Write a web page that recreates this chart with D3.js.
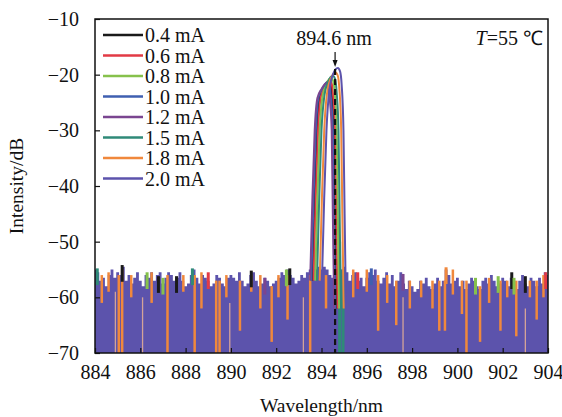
<!DOCTYPE html>
<html>
<head>
<meta charset="utf-8">
<script src="https://cdn.jsdelivr.net/npm/d3@7"></script>
<style>
  body { margin: 0; background: #fff; }
  text { font-family: "Liberation Serif", "Times New Roman", serif; fill: #111; }
</style>
</head>
<body>
<script>
// legend labels and colours of the eight drive currents
const currents = ["0.4 mA", "0.6 mA", "0.8 mA", "1.0 mA", "1.2 mA", "1.5 mA", "1.8 mA", "2.0 mA"];
const colors = ["#1a1a1a", "#e23a45", "#86c14c", "#3f5fb0", "#7a4590", "#2f8a78", "#f0883c", "#5c53ac"];

const xTicks = [884, 886, 888, 890, 892, 894, 896, 898, 900, 902, 904];
const yTicks = [-10, -20, -30, -40, -50, -60, -70];

// noise floor top (dense 2.0 mA trace), every 0.125 nm from 884 to 904
const floorStart = 884, floorStep = 0.125;
const floorTop = [
  -55, -55.5, -57, -56.5, -58, -56, -55, -56.5,
  -55.5, -56, -54.5, -57, -56, -57.5, -56.5, -55.5,
  -57, -58, -56, -56.5, -55.5, -57, -56, -55.5,
  -57.5, -56.5, -55.5, -56, -57, -56.5, -55.5, -57,
  -58, -57.5, -56, -55, -56.5, -57.5, -56, -56.5,
  -57, -58, -57.5, -56, -56.5, -57.5, -58, -56.5,
  -56, -56.5, -57, -55.5, -57, -58, -57.5, -56,
  -55.5, -57, -58, -57.5, -56.5, -57, -58, -57.5,
  -57, -56.5, -55.5, -56, -55, -56, -56.5, -57.5,
  -57, -56, -56.5, -55.5, -55, -54.5, -55, -54.5,
  -55, -54.5, -55, -56, -56.5, -55.5, -56, -55,
  -54.5, -55.5, -57, -56, -55.5, -57, -56.5, -58,
  -56.5, -55.5, -56, -55, -57, -57.5, -56.5, -55.5,
  -57.5, -56, -58, -57, -55.5, -57.5, -58.5, -57,
  -58, -59, -58.5, -57, -57.5, -56.5, -58, -58.5,
  -57.5, -56.5, -58, -57, -55, -56, -57.5, -57,
  -56.5, -58, -57, -58.5, -57.5, -56.5, -57, -58,
  -58.5, -57, -56.5, -57.5, -56, -57, -58, -57.5,
  -56.5, -57, -58, -56.5, -57.5, -58.5, -57, -56,
  -57.5, -58, -56.5, -57, -58, -56.5, -57.5, -55.5,
  -56
];

// places where the 1.8 mA trace shows through the floor: [wavelength, top, bottom]
const orangeStrips = [
  [884.3, -56, -61], [884.6, -55.5, -59], [885.05, -56, -70], [885.2, -55, -70], [885.6, -56, -60],
  [886.5, -55.5, -61], [887.2, -56, -70], [887.9, -56, -59], [888.4, -56, -70], [888.7, -55.5, -62],
  [889.35, -57, -70], [889.5, -57, -70], [889.8, -56, -60], [890.4, -57, -66], [890.9, -56, -59],
  [891.3, -56, -62], [891.8, -58, -68], [892.1, -56, -60], [892.5, -56, -64], [893.5, -56, -70],
  [894.2, -56, -62], [895.4, -55, -60], [896.0, -55, -59], [896.5, -56, -66], [896.9, -56, -61],
  [897.3, -57, -65], [897.9, -57, -62], [898.4, -57, -60], [898.9, -57, -62], [899.2, -57, -66],
  [899.45, -57, -66], [899.8, -55, -59.5], [900.2, -57, -63], [900.4, -57, -70], [901.0, -58, -68],
  [901.4, -56.5, -61], [901.9, -57, -66], [902.2, -57, -60], [902.6, -57, -67], [903.2, -57, -60],
  [903.5, -57, -64], [903.8, -56, -60]
];

// pale gaps in the floor: [wavelength, top, bottom]
const paleStrips = [[884.9, -59, -70], [886.1, -60, -70], [889.95, -61, -70], [893.2, -60, -70], [897.6, -60, -70], [903.0, -62, -70]];

// teal strips at the foot of the peak: [wavelength, top, bottom]
const tealStrips = [[894.8, -50, -70], [894.95, -55, -70]];

// small tips of other traces above the floor: [wavelength, value, series index]
const tips = [
  [884.1, -54.8, 5], [885.2, -54.2, 0], [886.3, -55.5, 2], [886.8, -56.2, 0], [887.0, -56.5, 2],
  [887.6, -56.2, 0], [888.3, -54.8, 5], [889.0, -55.5, 1], [890.9, -55.2, 0], [891.5, -56.5, 4],
  [892.45, -55, 2], [892.6, -54.8, 0], [895.6, -55.5, 1], [896.2, -54.8, 3], [897.6, -55.8, 4],
  [899.5, -54.6, 6], [900.8, -56.5, 2], [901.8, -56.2, 2], [902.4, -55.5, 0], [902.5, -56.5, 2],
  [903.0, -56.2, 0], [903.9, -55.5, 1]
];

// emission peaks of each trace: [wavelength, dB]
const peaks = [
  [[893.60,-57],[893.70,-42],[893.80,-30],[893.92,-24],[894.10,-22.2],[894.30,-21.2],[894.40,-21.8],[894.47,-24.2],[894.55,-30],[894.60,-45],[894.66,-62]],
  [[893.65,-57],[893.75,-42],[893.85,-30],[893.97,-24],[894.15,-22],[894.35,-21],[894.45,-21.6],[894.52,-24],[894.60,-30],[894.65,-45],[894.71,-62]],
  [[893.72,-57],[893.82,-42],[893.92,-30],[894.04,-24],[894.22,-21.6],[894.42,-20.6],[894.52,-21.2],[894.59,-23.6],[894.67,-30],[894.72,-45],[894.78,-62]],
  [[893.55,-57],[893.65,-42],[893.75,-30],[893.87,-24],[894.05,-22.4],[894.25,-21.4],[894.35,-22],[894.42,-24.4],[894.50,-30],[894.55,-45],[894.61,-62]],
  [[893.50,-57],[893.60,-42],[893.70,-30],[893.82,-24.2],[894.00,-22.6],[894.20,-21.6],[894.30,-22.2],[894.37,-24.6],[894.45,-30],[894.50,-45],[894.56,-62]],
  [[893.80,-57],[893.90,-42],[894.00,-30],[894.12,-24],[894.30,-21.2],[894.50,-20.2],[894.60,-20.8],[894.67,-23.2],[894.75,-30],[894.80,-45],[894.86,-62]],
  [[893.92,-57],[894.02,-42],[894.12,-30],[894.24,-23.5],[894.42,-20.6],[894.62,-19.6],[894.72,-20.2],[894.79,-22.6],[894.87,-30],[894.92,-45],[894.98,-62]],
  [[894.02,-57],[894.12,-42],[894.22,-30],[894.34,-23],[894.52,-19.8],[894.72,-18.8],[894.82,-19.4],[894.89,-21.8],[894.97,-30],[895.02,-45],[895.08,-62]]
];

const markWl = 894.6;

const width = 562, height = 417;
const margin = {top: 19, right: 14, bottom: 64, left: 95};

const svg = d3.select("body").append("svg")
    .attr("width", width).attr("height", height);

const x = d3.scaleLinear().domain([884, 904]).range([margin.left, width - margin.right]);
const y = d3.scaleLinear().domain([-70, -10]).range([height - margin.bottom, margin.top]);

svg.append("clipPath").attr("id", "clip").append("rect")
    .attr("x", x(884)).attr("y", y(-10)).attr("width", x(904) - x(884)).attr("height", y(-70) - y(-10));
const plot = svg.append("g").attr("clip-path", "url(#clip)");

// noise floor
const floorData = floorTop.map((v, i) => [floorStart + i * floorStep, v]);
plot.append("path")
    .datum(floorData)
    .attr("fill", colors[7])
    .attr("d", d3.area().x(d => x(d[0])).y0(y(-70)).y1(d => y(d[1])).curve(d3.curveStep));

function strips(data, color, w, op) {
  plot.append("g").selectAll("line")
    .data(data)
    .enter().append("line")
      .attr("x1", d => x(d[0])).attr("x2", d => x(d[0]))
      .attr("y1", d => y(d[1])).attr("y2", d => y(d[2]))
      .attr("stroke", color).attr("stroke-width", w).attr("stroke-opacity", op);
}
strips(paleStrips, "#f2b894", 1.3, 0.8);
strips(orangeStrips, colors[6], 2.5, 1);
strips(tealStrips, colors[5], 3, 1);

plot.append("g").selectAll("line")
  .data(tips)
  .enter().append("line")
    .attr("x1", d => x(d[0])).attr("x2", d => x(d[0]))
    .attr("y1", d => y(d[1])).attr("y2", d => y(d[1] - 3))
    .attr("stroke", d => colors[d[2]]).attr("stroke-width", 3);

// peaks
const line = d3.line().x(d => x(d[0])).y(d => y(d[1])).curve(d3.curveMonotoneX);
peaks.forEach((p, i) => {
  plot.append("path")
      .datum(p)
      .attr("fill", "none")
      .attr("stroke", colors[i])
      .attr("stroke-width", 2)
      .attr("d", line);
});

// 894.6 nm marker
plot.append("line")
    .attr("x1", x(markWl)).attr("x2", x(markWl))
    .attr("y1", y(-19)).attr("y2", y(-70))
    .attr("stroke", "#111").attr("stroke-width", 2.2)
    .attr("stroke-dasharray", "6,4");

svg.append("line")
    .attr("x1", x(markWl)).attr("x2", x(markWl))
    .attr("y1", 52).attr("y2", 62)
    .attr("stroke", "#111").attr("stroke-width", 1.2);
svg.append("path")
    .attr("d", `M${x(markWl) - 2.5},60 L${x(markWl) + 2.5},60 L${x(markWl)},67 Z`)
    .attr("fill", "#111");

svg.append("text")
    .attr("x", x(markWl) - 1).attr("y", 45)
    .attr("text-anchor", "middle").attr("font-size", 20)
    .text("894.6 nm");

const tLabel = svg.append("text")
    .attr("x", x(904) - 5).attr("y", 45)
    .attr("text-anchor", "end").attr("font-size", 20);
tLabel.append("tspan").attr("font-style", "italic").text("T");
tLabel.append("tspan").text("=55 ℃");

// axes
const xAxis = svg.append("g")
    .attr("transform", `translate(0,${y(-70)})`)
    .call(d3.axisBottom(x).tickValues(xTicks).tickSizeInner(-5).tickSizeOuter(0).tickPadding(12));
const yAxis = svg.append("g")
    .attr("transform", `translate(${x(884)},0)`)
    .call(d3.axisLeft(y).tickValues(yTicks).tickSizeInner(-5).tickSizeOuter(0).tickPadding(16)
      .tickFormat(d => String(d).replace("-", "\u2212")));
[xAxis, yAxis].forEach(a => {
  a.select(".domain").remove();
  a.selectAll("line").attr("stroke", "#111").attr("stroke-width", 1.2);
  a.selectAll("text").attr("font-size", 20)
      .attr("font-family", "Liberation Serif, serif").attr("fill", "#111");
});

svg.append("rect")
    .attr("x", x(884)).attr("y", y(-10))
    .attr("width", x(904) - x(884)).attr("height", y(-70) - y(-10))
    .attr("fill", "none").attr("stroke", "#111").attr("stroke-width", 1.5);

// axis titles
svg.append("text")
    .attr("x", (x(884) + x(904)) / 2).attr("y", 412)
    .attr("text-anchor", "middle").attr("font-size", 19.5)
    .text("Wavelength/nm");
svg.append("text")
    .attr("transform", `translate(23,${(y(-10) + y(-70)) / 2}) rotate(-90)`)
    .attr("text-anchor", "middle").attr("font-size", 19.5)
    .text("Intensity/dB");

// legend
const legend = svg.append("g").attr("transform", "translate(103,35)");
const item = legend.selectAll("g")
  .data(currents)
  .enter().append("g")
    .attr("transform", (d, i) => `translate(0,${i * 20.5})`);
item.append("line")
    .attr("x1", 0).attr("x2", 40)
    .attr("stroke", (d, i) => colors[i]).attr("stroke-width", 2.5);
item.append("text")
    .attr("x", 42).attr("dy", "0.35em")
    .attr("font-size", 20)
    .text(d => d);
</script>
</body>
</html>
